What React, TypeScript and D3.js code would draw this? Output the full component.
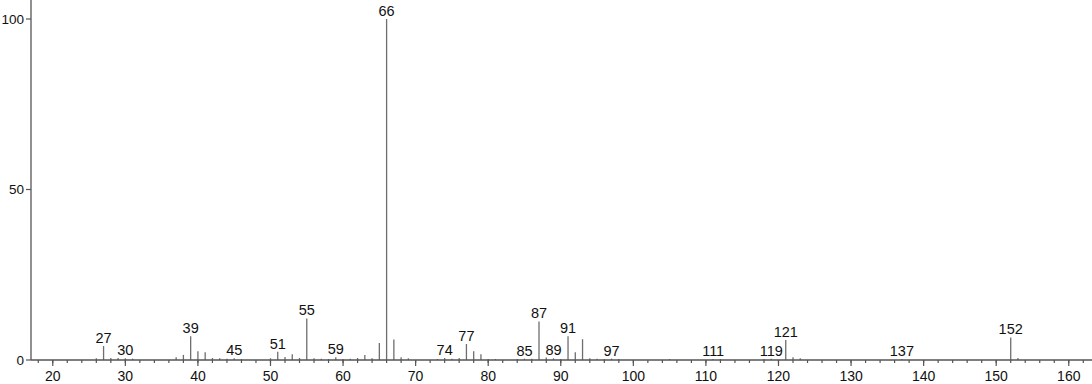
import React from "react";
import * as d3 from "d3";

const mzValues = [26,27,28,29,30,31,37,38,39,40,41,42,43,44,45,46,50,51,52,53,54,55,56,57,58,59,60,61,62,63,64,65,66,67,68,69,73,74,75,76,77,78,79,80,81,84,85,86,87,88,89,90,91,92,93,94,95,96,97,98,105,111,112,118,119,121,122,123,137,152,153];
const intensities = [0.5,4.1,0.6,0.6,0.5,0.4,0.8,1.5,7.0,2.6,2.3,0.6,0.5,0.4,0.5,0.3,0.5,2.4,0.9,1.7,0.6,12.2,0.5,0.4,0.3,0.8,0.3,0.4,0.6,1.5,0.5,5.0,100,6.0,0.8,0.5,0.3,0.6,0.4,0.6,4.7,2.6,1.7,0.3,0.3,0.3,0.4,0.4,11.3,0.7,0.5,0.3,7.0,2.3,6.1,0.5,0.4,0.3,0.4,0.3,0.3,0.3,0.3,0.3,0.4,5.9,0.8,0.5,0.3,6.6,0.6];
const labeledPeaks = [27,30,39,45,51,55,59,66,74,77,85,87,89,91,97,111,119,121,137,152];
const xMajorTicks = [20,30,40,50,60,70,80,90,100,110,120,130,140,150,160];
const xMinorTicks = d3.range(18, 163, 2);
const yTicks = [0, 50, 100];

const W = 1092, H = 384;

export default function App() {
  const x = d3.scaleLinear().domain([17, 163.2]).range([31, 1092]);
  const y = d3.scaleLinear().domain([0, 100]).range([360, 19]);
  const peaks = mzValues.map((m, i) => ({ m, v: intensities[i] }));
  const font = "'Liberation Sans', Arial, Helvetica, sans-serif";
  return (
    <svg width={W} height={H} style={{ position: "absolute", left: 0, top: 0, background: "#fff" }}>
      {peaks.map((p) => (
        <line key={p.m} x1={x(p.m)} x2={x(p.m)} y1={y(0)} y2={y(p.v)} stroke="#6e6e6e" strokeWidth={1.3} />
      ))}
      <line x1={31} x2={31} y1={0} y2={360} stroke="#555" strokeWidth={1.3} />
      {yTicks.map((t) => (
        <g key={t}>
          <line x1={26} x2={31} y1={y(t)} y2={y(t)} stroke="#555" strokeWidth={1.2} />
          <text x={24} y={y(t)} dy="0.35em" textAnchor="end" fontSize={13.5} fontFamily={font} fill="#111">{t}</text>
        </g>
      ))}
      <line x1={31} x2={1092} y1={360} y2={360} stroke="#555" strokeWidth={1.3} />
      {xMinorTicks.map((t) => (
        <line key={"m" + t} x1={x(t)} x2={x(t)} y1={360} y2={363} stroke="#555" strokeWidth={1.2} />
      ))}
      {xMajorTicks.map((t) => (
        <g key={"M" + t}>
          <line x1={x(t)} x2={x(t)} y1={360} y2={366} stroke="#555" strokeWidth={1.2} />
          <text x={x(t)} y={381} textAnchor="middle" fontSize={14} fontFamily={font} fill="#111">{t}</text>
        </g>
      ))}
      {labeledPeaks.map((m) => {
        const v = intensities[mzValues.indexOf(m)];
        return (
          <text key={"l" + m} x={x(m)} y={y(v) - 3} textAnchor="middle" fontSize={14.5} fontFamily={font} fill="#111">{m}</text>
        );
      })}
    </svg>
  );
}
